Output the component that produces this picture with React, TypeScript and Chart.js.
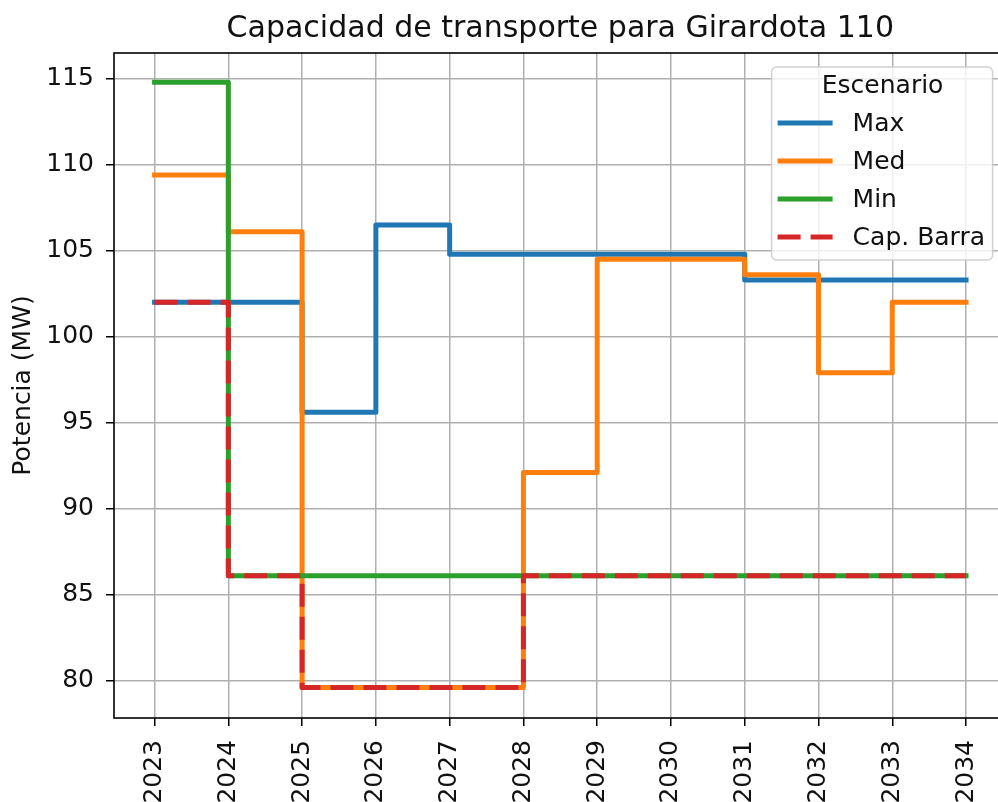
import React, { useEffect, useRef } from 'react';
import { Chart, registerables } from 'chart.js';

Chart.register(...registerables);

const years = [2023, 2024, 2025, 2026, 2027, 2028, 2029, 2030, 2031, 2032, 2033, 2034];
const maxValues = [102.0, 102.0, 95.6, 106.5, 104.8, 104.8, 104.8, 104.8, 103.3, 103.3, 103.3, 103.3];
const medValues = [109.4, 106.1, 79.6, 79.6, 79.6, 92.1, 104.5, 104.5, 103.6, 97.9, 102.0, 102.0];
const minValues = [114.8, 86.1, 86.1, 86.1, 86.1, 86.1, 86.1, 86.1, 86.1, 86.1, 86.1, 86.1];
const capValues = [102.0, 86.1, 79.6, 79.6, 79.6, 86.1, 86.1, 86.1, 86.1, 86.1, 86.1, 86.1];
const yTickValues = [80, 85, 90, 95, 100, 105, 110, 115];
const seriesLabels = ['Max', 'Med', 'Min', 'Cap. Barra'];
const chartTitle = 'Capacidad de transporte para Girardota 110';
const yAxisTitle = 'Potencia (MW)';
const legendTitle = 'Escenario';

const COLORS = ['#1f77b4', '#ff7f0e', '#2ca02c', '#d62728'];
const FONT = '"DejaVu Sans", sans-serif';
const CANVAS_W = 1010;
const CANVAS_H = 802;
const LINE_W = 5;
const DASH = [23, 10];

const decorPlugin = {
  id: 'decor',
  afterDatasetsDraw(chart: any) {
    const { ctx, chartArea: a } = chart;
    ctx.save();
    // spines
    ctx.strokeStyle = '#000';
    ctx.lineWidth = 1.6;
    ctx.strokeRect(a.left, a.top, a.right - a.left, a.bottom - a.top);
    // title
    ctx.fillStyle = '#111';
    ctx.font = `30px ${FONT}`;
    ctx.textAlign = 'center';
    ctx.textBaseline = 'alphabetic';
    ctx.fillText(chartTitle, (a.left + a.right) / 2, 37);
    // legend
    const bx = a.right - 235;
    const by = a.top + 14;
    const bw = 221;
    const bh = 193;
    const r = 5;
    ctx.beginPath();
    ctx.moveTo(bx + r, by);
    ctx.lineTo(bx + bw - r, by);
    ctx.arcTo(bx + bw, by, bx + bw, by + r, r);
    ctx.lineTo(bx + bw, by + bh - r);
    ctx.arcTo(bx + bw, by + bh, bx + bw - r, by + bh, r);
    ctx.lineTo(bx + r, by + bh);
    ctx.arcTo(bx, by + bh, bx, by + bh - r, r);
    ctx.lineTo(bx, by + r);
    ctx.arcTo(bx, by, bx + r, by, r);
    ctx.closePath();
    ctx.fillStyle = 'rgba(255,255,255,0.8)';
    ctx.fill();
    ctx.strokeStyle = 'rgba(204,204,204,0.9)';
    ctx.lineWidth = 1.5;
    ctx.stroke();

    ctx.fillStyle = '#111';
    ctx.font = `25px ${FONT}`;
    ctx.textAlign = 'center';
    ctx.textBaseline = 'middle';
    ctx.fillText(legendTitle, bx + 111, by + 19);
    ctx.textAlign = 'left';
    seriesLabels.forEach((lab, i) => {
      const y = by + 56 + i * 38;
      ctx.beginPath();
      ctx.strokeStyle = COLORS[i];
      ctx.lineWidth = LINE_W;
      ctx.lineCap = 'butt';
      ctx.setLineDash(i === 3 ? DASH : []);
      ctx.moveTo(bx + 6, y);
      ctx.lineTo(bx + 61, y);
      ctx.stroke();
      ctx.setLineDash([]);
      ctx.fillStyle = '#111';
      ctx.fillText(lab, bx + 81, y + 1);
    });
    ctx.restore();
  },
};

export default function App() {
  const canvasRef = useRef<HTMLCanvasElement | null>(null);

  useEffect(() => {
    const canvas = canvasRef.current;
    if (!canvas) return;
    const seriesValues = [maxValues, medValues, minValues, capValues];
    const datasets = seriesValues.map((vals, i) => ({
      label: seriesLabels[i],
      data: years.map((x, j) => ({ x, y: vals[j] })),
      borderColor: COLORS[i],
      backgroundColor: COLORS[i],
      borderWidth: LINE_W,
      borderDash: i === 3 ? DASH : [],
      borderCapStyle: i === 3 ? 'butt' : 'square',
      borderJoinStyle: 'round',
      stepped: true,
      pointRadius: 0,
      pointHoverRadius: 0,
      fill: false,
      order: 3 - i,
    }));

    const chart = new Chart(canvas, {
      type: 'line',
      data: { datasets: datasets as any },
      options: {
        animation: false,
        responsive: false,
        devicePixelRatio: 1,
        layout: { padding: { top: 53, left: 0, right: CANVAS_W - 1006.6, bottom: 0 } },
        plugins: {
          legend: { display: false },
          title: { display: false },
          tooltip: { enabled: false },
        },
        scales: {
          x: {
            type: 'linear',
            min: 2022.45,
            max: 2034.55,
            afterFit: (s: any) => {
              s.height = 84;
            },
            afterBuildTicks: (s: any) => {
              s.ticks = years.map((v) => ({ value: v }));
            },
            grid: {
              color: '#b0b0b0',
              lineWidth: 1.5,
              drawTicks: true,
              tickLength: 8,
              tickColor: '#000',
              tickWidth: 1.5,
            },
            border: { display: false },
            ticks: {
              autoSkip: false,
              minRotation: 90,
              maxRotation: 90,
              padding: 14,
              color: '#111',
              font: { family: FONT, size: 25, lineHeight: 0 },
              callback: (v: any) => String(v),
            },
          },
          y: {
            type: 'linear',
            min: 77.82,
            max: 116.5,
            afterFit: (s: any) => {
              s.width = 114;
            },
            afterBuildTicks: (s: any) => {
              s.ticks = yTickValues.map((v) => ({ value: v }));
            },
            grid: {
              color: '#b0b0b0',
              lineWidth: 1.5,
              drawTicks: true,
              tickLength: 8,
              tickColor: '#000',
              tickWidth: 1.5,
            },
            border: { display: false },
            ticks: {
              padding: 12,
              color: '#111',
              font: { family: FONT, size: 25 },
              callback: (v: any) => String(v),
            },
            title: {
              display: true,
              text: yAxisTitle,
              color: '#111',
              font: { family: FONT, size: 25 },
              padding: { top: 8, bottom: 0 },
            },
          },
        },
      },
      plugins: [decorPlugin],
    });
    return () => chart.destroy();
  }, []);

  return (
    <div style={{ position: 'fixed', left: 0, top: 0, width: 998, height: 802, overflow: 'hidden', background: '#fff' }}>
      <canvas ref={canvasRef} width={CANVAS_W} height={CANVAS_H} style={{ display: 'block' }} />
    </div>
  );
}
